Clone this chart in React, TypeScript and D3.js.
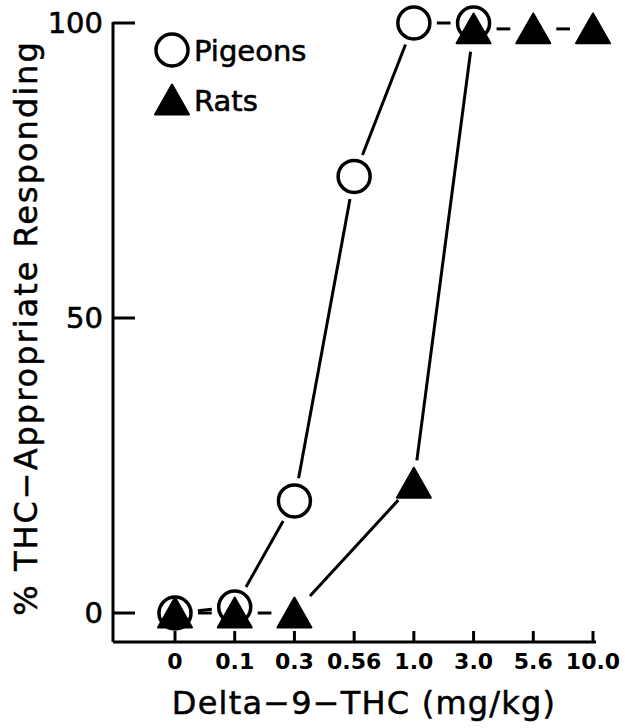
import React from "react";
import * as d3 from "d3";

const categories = ["0", "0.1", "0.3", "0.56", "1.0", "3.0", "5.6", "10.0"];
const pigeons: (number | null)[] = [0, 1, 19, 74, 100, 100, null, null];
const rats: (number | null)[] = [0, 0, 0, null, 22, 99, 99, 99];
const yTicks = [0, 50, 100];

const W = 625;
const H = 728;
const FONT = "'DejaVu Sans', sans-serif";

function gappedSegments(values: (number | null)[], x: d3.ScalePoint<string>, y: d3.ScaleLinear<number, number>, gap: number) {
  const pts = values
    .map((v, i) => (v == null ? null : [x(categories[i]) as number, y(v)] as [number, number]))
    .filter((p): p is [number, number] => p !== null);
  const segs: [number, number, number, number][] = [];
  for (let i = 0; i < pts.length - 1; i++) {
    const [x1, y1] = pts[i];
    const [x2, y2] = pts[i + 1];
    const dx = x2 - x1, dy = y2 - y1;
    const len = Math.hypot(dx, dy);
    if (len <= gap * 2) continue;
    const ux = dx / len, uy = dy / len;
    segs.push([x1 + ux * gap, y1 + uy * gap, x2 - ux * gap, y2 - uy * gap]);
  }
  return segs;
}

function tri(cx: number, cy: number, s: number) {
  const h = s * 0.88;
  return `M${cx},${cy - h * 0.55}L${cx + s / 2},${cy + h * 0.45}L${cx - s / 2},${cy + h * 0.45}Z`;
}

export default function App() {
  const x = d3.scalePoint<string>().domain(categories).range([175, 593]);
  const y = d3.scaleLinear().domain([0, 100]).range([613, 23]);
  const axisX = 113;
  const axisY = 642;
  const pSegs = gappedSegments(pigeons, x, y, 23);
  const rSegs = gappedSegments(rats, x, y, 23);
  return (
    <svg width={W} height={H} style={{ position: "absolute", left: 0, top: 0, background: "#fff" }}>
      <rect width={W} height={H} fill="#fff" />
      {/* axes */}
      <line x1={axisX} y1={y(100) - 1} x2={axisX} y2={axisY} stroke="#000" strokeWidth={3} />
      <line x1={axisX} y1={axisY} x2={596} y2={axisY} stroke="#000" strokeWidth={3} />
      {yTicks.map((t) => (
        <g key={t}>
          <line x1={axisX} x2={axisX + 22} y1={y(t)} y2={y(t)} stroke="#000" strokeWidth={3} />
          <text x={103} y={y(t)} dy="0.36em" textAnchor="end" fontFamily={FONT} fontSize={29} stroke="#000" strokeWidth={0.6}>
            {t}
          </text>
        </g>
      ))}
      {categories.map((c) => (
        <g key={c}>
          <line x1={x(c)} x2={x(c)} y1={axisY} y2={axisY - 11} stroke="#000" strokeWidth={3} />
          <text x={x(c)} y={669} textAnchor="middle" fontFamily={FONT} fontSize={22} fontWeight="bold">
            {c}
          </text>
        </g>
      ))}
      <text x={364} y={714} textAnchor="middle" fontFamily={FONT} fontSize={32} letterSpacing={1.2} stroke="#000" strokeWidth={0.5}>
        Delta−9−THC (mg/kg)
      </text>
      <text
        transform={`translate(37,${328}) rotate(-90)`}
        textAnchor="middle"
        fontFamily={FONT}
        fontSize={32}
        letterSpacing={2}
        stroke="#000"
        strokeWidth={0.5}
      >
        % THC−Appropriate Responding
      </text>
      {/* lines */}
      {pSegs.map((s, i) => (
        <line key={"p" + i} x1={s[0]} y1={s[1]} x2={s[2]} y2={s[3]} stroke="#000" strokeWidth={3} />
      ))}
      {rSegs.map((s, i) => (
        <line key={"r" + i} x1={s[0]} y1={s[1]} x2={s[2]} y2={s[3]} stroke="#000" strokeWidth={3} />
      ))}
      {/* markers */}
      {pigeons.map((v, i) =>
        v == null ? null : (
          <circle key={"pc" + i} cx={x(categories[i])} cy={y(v)} r={16} fill="#fff" stroke="#000" strokeWidth={3.5} />
        )
      )}
      {rats.map((v, i) =>
        v == null ? null : <path key={"rt" + i} d={tri(x(categories[i]) as number, y(v) + 1, 34)} fill="#000" stroke="#000" strokeWidth={2} strokeLinejoin="round" />
      )}
      {/* legend */}
      <circle cx={172} cy={50} r={16} fill="#fff" stroke="#000" strokeWidth={3.5} />
      <text x={194} y={61} fontFamily={FONT} fontSize={29} stroke="#000" strokeWidth={0.6}>Pigeons</text>
      <path d={tri(172, 101, 34)} fill="#000" stroke="#000" strokeWidth={2} strokeLinejoin="round" />
      <text x={194} y={111} fontFamily={FONT} fontSize={29} stroke="#000" strokeWidth={0.6}>Rats</text>
    </svg>
  );
}
